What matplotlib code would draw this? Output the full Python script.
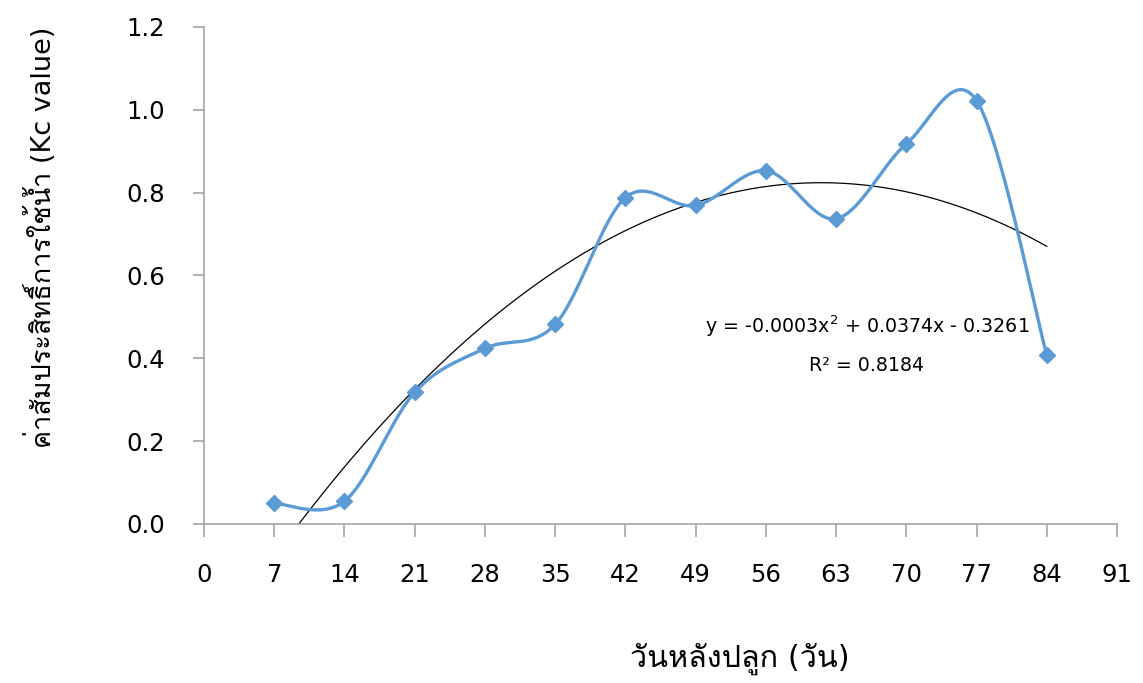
import numpy as np
import matplotlib
matplotlib.use("Agg")
import matplotlib.pyplot as plt
from matplotlib import font_manager
from matplotlib.ft2font import FT2Font

days = [7, 14, 21, 28, 35, 42, 49, 56, 63, 70, 77, 84]
kc = [0.05, 0.055, 0.318, 0.424, 0.482, 0.788, 0.769, 0.853, 0.737, 0.918, 1.022, 0.407]
x_ticks = list(range(0, 92, 7))
y_ticks = [0.0, 0.2, 0.4, 0.6, 0.8, 1.0, 1.2]
eq_text = "y = -0.0003x$^2$ + 0.0374x - 0.3261"
r2_text = "R² = 0.8184"
xlabel = "วันหลังปลูก (วัน)"
ylabel = "ค่าสัมประสิทธิ์การใช้น้ำ (Kc value)"


def find_thai_font():
    # pick any installed font that has Thai glyphs
    for f in font_manager.fontManager.ttflist:
        try:
            cm = FT2Font(f.fname).get_charmap()
        except Exception:
            continue
        if 0x0E27 in cm and 0x0E31 in cm:
            return f.name
    return None


thai = find_thai_font()
fams = ["DejaVu Sans"]
if thai:
    fams = ["DejaVu Sans", thai]
plt.rcParams['font.family'] = fams


def smooth(xs, ys, n=40):
    # excel-like smoothed line (catmull-rom as bezier)
    p = np.column_stack([xs, ys]).astype(float)
    ext = np.vstack([p[0], p, p[-1]])
    out = []
    t = np.linspace(0, 1, n)[:, None]
    for i in range(len(p) - 1):
        p0 = ext[i + 1]
        p3 = ext[i + 2]
        c1 = p0 + (ext[i + 2] - ext[i]) / 6.0
        c2 = p3 - (ext[i + 3] - ext[i + 1]) / 6.0
        seg = (1 - t) ** 3 * p0 + 3 * (1 - t) ** 2 * t * c1 + 3 * (1 - t) * t ** 2 * c2 + t ** 3 * p3
        out.append(seg if i == 0 else seg[1:])
    out = np.vstack(out)
    return out[:, 0], out[:, 1]


fig = plt.figure(figsize=(11.43, 6.83), dpi=100)
ax = fig.add_axes([0.1785, 0.2328, 0.7988, 0.7277])

sx, sy = smooth(days, kc)
ax.plot(sx, sy, color="#5B9BD5", lw=2.4, zorder=3)
ax.plot(days, kc, linestyle="none", marker="D", color="#5B9BD5", ms=8.5, zorder=4)

coef = np.polyfit(days, kc, 2)
tx = np.linspace(days[0], days[-1], 300)
ax.plot(tx, np.polyval(coef, tx), color="black", lw=0.9, zorder=2)

ax.text(0.726, 0.398, eq_text, fontsize=13.7, ha="center", va="center", transform=ax.transAxes)
ax.text(0.726, 0.318, r2_text, fontsize=13.7, ha="center", va="center", transform=ax.transAxes)

ax.set_xlim(0, 91)
ax.set_ylim(0, 1.2)
ax.set_xticks(x_ticks)
ax.set_yticks(y_ticks)
ax.set_yticklabels([f"{v:.1f}" for v in y_ticks])

for s in ["top", "right"]:
    ax.spines[s].set_visible(False)
for s in ["left", "bottom"]:
    ax.spines[s].set_color("#A6A6A6")
    ax.spines[s].set_linewidth(1.2)
ax.tick_params(axis="both", direction="out", color="#A6A6A6", width=1.2, labelsize=17.5)
ax.tick_params(axis="x", length=9, pad=19)
ax.tick_params(axis="y", length=8, pad=20)

fig.text(0.647, 0.034, xlabel, fontsize=22, ha="center", va="center")
fig.text(0.036, 0.653, ylabel, fontsize=19.5, ha="center", va="center", rotation=90)

fig.savefig("out.png", dpi=100)
